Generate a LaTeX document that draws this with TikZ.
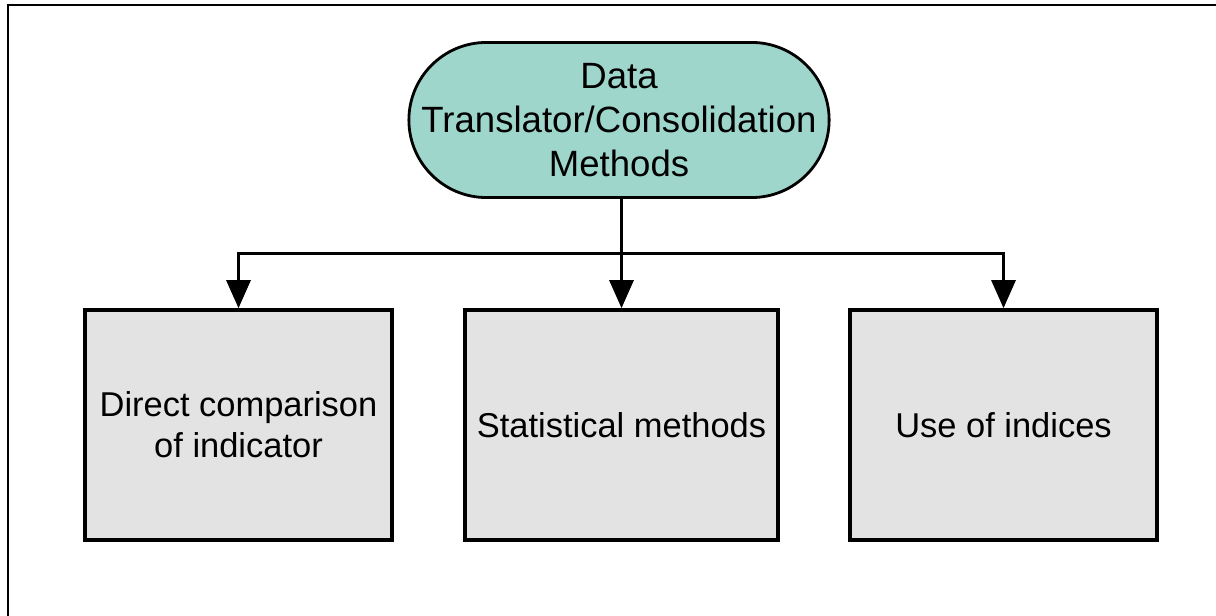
\documentclass[tikz,border=0pt]{standalone}
\usepackage{fontspec}
\setmainfont{Liberation Sans}
\usetikzlibrary{arrows.meta}
\definecolor{tealfill}{RGB}{158,214,204}
\definecolor{boxfill}{RGB}{227,227,227}
\tikzset{
  start/.style={draw, fill=tealfill, line width=0.028cm, rounded corners=0.775cm,
    minimum width=4.2cm, minimum height=1.55cm, align=center,
    font=\fontsize{10.4}{12.4}\selectfont},
  method/.style={draw, fill=boxfill, line width=0.035cm,
    minimum width=3.07cm, minimum height=2.3cm, align=center,
    font=\fontsize{9.8}{11.6}\selectfont},
  link/.style={line width=0.03cm, -{Triangle[width=0.24cm,length=0.28cm]}}
}
\begin{document}
\begin{tikzpicture}[x=0.01cm,y=-0.01cm]
      \useasboundingbox (0,0) rectangle (1216,616);
      \draw[line width=0.022cm] (8,616) -- (8,5) -- (1216,5);
      \draw
        (619,120) node[start] (0){Data\\Translator/Consolidation\\Methods}
        (238.5,425) node[method] (1){Direct comparison\\of indicator}
        (621.5,425) node[method] (2){Statistical methods}
        (1003.5,425) node[method] (3){Use of indices};
      \coordinate (j) at (621.5,254);
      \begin{scope}[link]
        \draw (0.south -| 2.north) to (2.north);
        \draw (j) -| (1.north);
        \draw (j) -| (3.north);
      \end{scope}
    \end{tikzpicture}
\end{document}
